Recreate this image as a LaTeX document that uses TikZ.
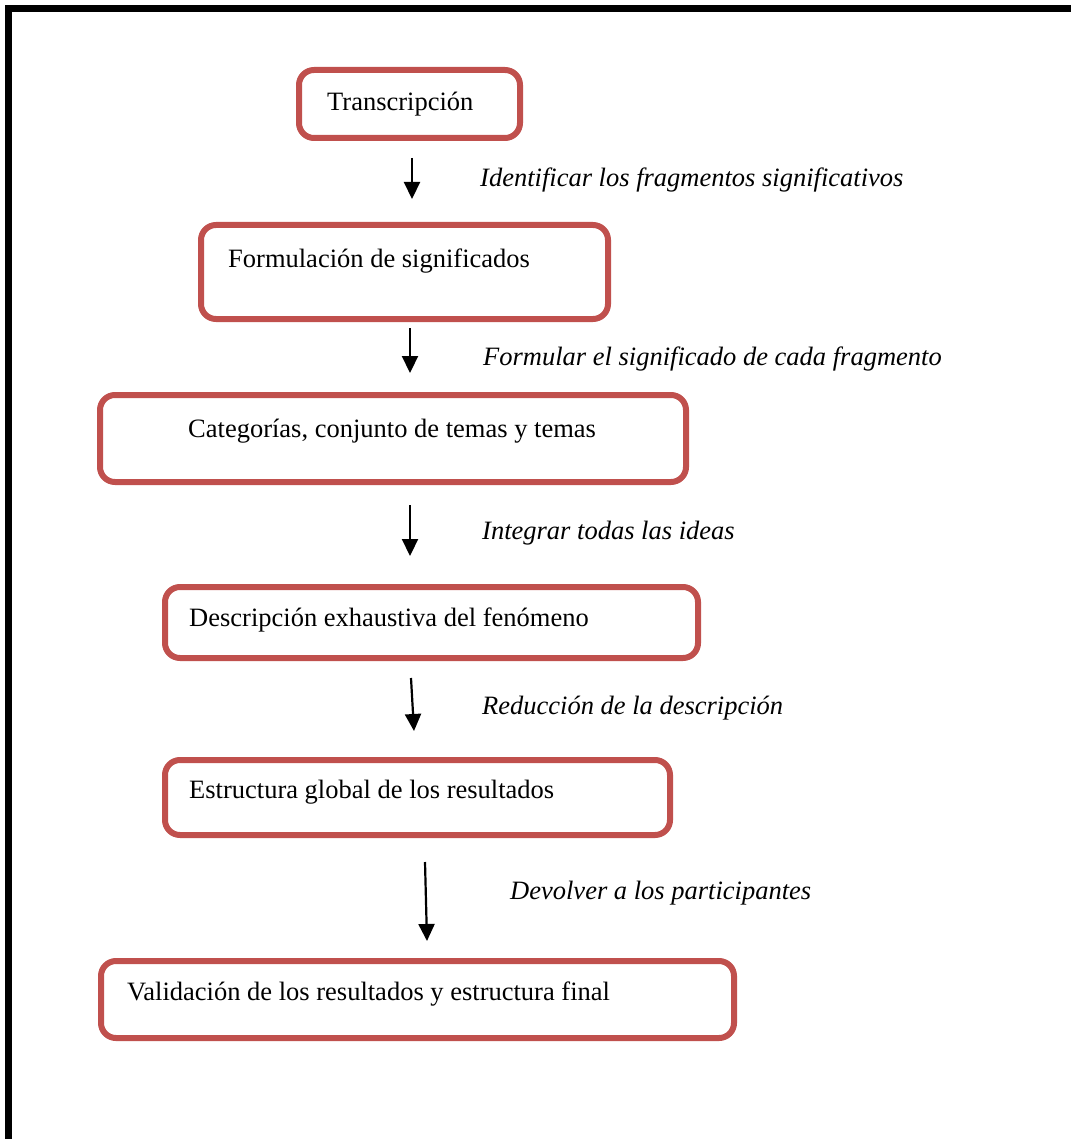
\documentclass[tikz,border=0pt]{standalone}
\usepackage{fontspec}
\setmainfont{Liberation Serif}
\usetikzlibrary{arrows.meta}
\definecolor{boxred}{HTML}{C0504D}
\begin{document}
\begin{tikzpicture}[x=1pt,y=-1pt,
  stagebox/.style={draw=boxred,line width=6pt,rounded corners=15pt},
  stagetext/.style={anchor=base west,inner sep=0pt,font=\fontsize{26.5}{30}\selectfont},
  steplabel/.style={anchor=base west,inner sep=0pt,font=\fontsize{26.5}{30}\selectfont\itshape},
  flow/.style={line width=2.2pt,-{Triangle[length=17pt,width=16pt]}}]
\useasboundingbox (0,0) rectangle (1071,1139);
% outer frame: left and top rules
\draw[line width=7pt] (8.5,1139) -- (8.5,8.5) -- (1071,8.5);

% stage boxes
\draw[stagebox] (299,70) rectangle (520,138);
\draw[stagebox] (201,225) rectangle (608,319);
\draw[stagebox] (100,395) rectangle (686,482);
\draw[stagebox] (165,587) rectangle (698,658);
\draw[stagebox] (165,760) rectangle (670,835);
\draw[stagebox] (101,961) rectangle (734,1038);

% stage texts
\node[stagetext] (t1) at (327,111) {Transcripción};
\node[stagetext] (t2) at (228,268) {Formulación de significados};
\node[stagetext] (t3) at (188,437) {Categorías, conjunto de temas y temas};
\node[stagetext] (t4) at (189,626) {Descripción exhaustiva del fenómeno};
\node[stagetext] (t5) at (189,798) {Estructura global de los resultados};
\node[stagetext] (t6) at (127,1000) {Validación de los resultados y estructura final};

% step labels
\node[steplabel] (l1) at (480,187) {Identificar los fragmentos significativos};
\node[steplabel] (l2) at (483,365) {Formular el significado de cada fragmento};
\node[steplabel] (l3) at (482,539) {Integrar todas las ideas};
\node[steplabel] (l4) at (482,714) {Reducción de la descripción};
\node[steplabel] (l5) at (510,899) {Devolver a los participantes};

% arrow end points
\coordinate (a1s) at (412,158); \coordinate (a1e) at (412,199);
\coordinate (a2s) at (410,328); \coordinate (a2e) at (410,373);
\coordinate (a3s) at (410,505); \coordinate (a3e) at (410,556);
\coordinate (a4s) at (411,678); \coordinate (a4e) at (414,731);
\coordinate (a5s) at (425,862); \coordinate (a5e) at (427,941);
\draw[flow] (a1s) -- (a1e);
\draw[flow] (a2s) -- (a2e);
\draw[flow] (a3s) -- (a3e);
\draw[flow] (a4s) -- (a4e);
\draw[flow] (a5s) -- (a5e);
\end{tikzpicture}
\end{document}
